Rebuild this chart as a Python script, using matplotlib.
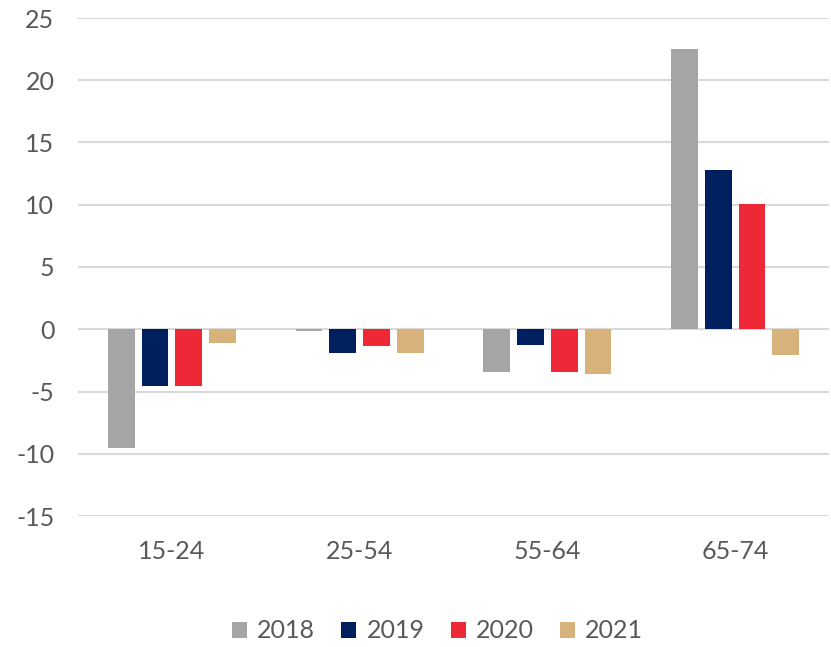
import matplotlib.pyplot as plt
import numpy as np

plt.rcParams['font.family'] = ['Lato', 'DejaVu Sans']
plt.rcParams['axes.unicode_minus'] = False

# data
groups = ['15-24', '25-54', '55-64', '65-74']
years = ['2018', '2019', '2020', '2021']
v2018 = [-9.5, -0.15, -3.42, 22.5]
v2019 = [-4.53, -1.88, -1.26, 12.82]
v2020 = [-4.58, -1.31, -3.4, 10.08]
v2021 = [-1.07, -1.93, -3.63, -2.06]
colors = ['#A5A5A5', '#001F5F', '#EE2836', '#D7B27A']

series = [v2018, v2019, v2020, v2021]

fig = plt.figure(figsize=(8.31, 6.47), dpi=100)
ax = fig.add_axes([78/831, 1-516/647, 751/831, 498/647])

x = np.arange(len(groups))
step = 0.18
width = 0.142
for i, (vals, yr, c) in enumerate(zip(series, years, colors)):
    ax.bar(x + (i - 1.5)*step, vals, width, color=c, label=yr, zorder=3)

ax.set_xlim(-0.5, 3.5)
ax.set_ylim(-15, 25)
ax.set_yticks(np.arange(-15, 26, 5))
ax.set_xticks(x)
ax.set_xticklabels(groups)
ax.yaxis.grid(True, color='#D9D9D9', linewidth=1.5, zorder=0)
ax.set_axisbelow(True)
for s in ax.spines.values():
    s.set_visible(False)
ax.tick_params(axis='both', length=0, labelsize=18, labelcolor='#595959')
ax.tick_params(axis='y', pad=17)
ax.tick_params(axis='x', pad=17)

fig.legend(loc='center', bbox_to_anchor=(437.5/831, 1-631/647), ncol=4,
           frameon=False, fontsize=18, labelcolor='#595959',
           handlelength=0.6, handleheight=0.6, handletextpad=0.4,
           columnspacing=1.05, borderpad=0.2)

plt.savefig('out.png', dpi=100)
